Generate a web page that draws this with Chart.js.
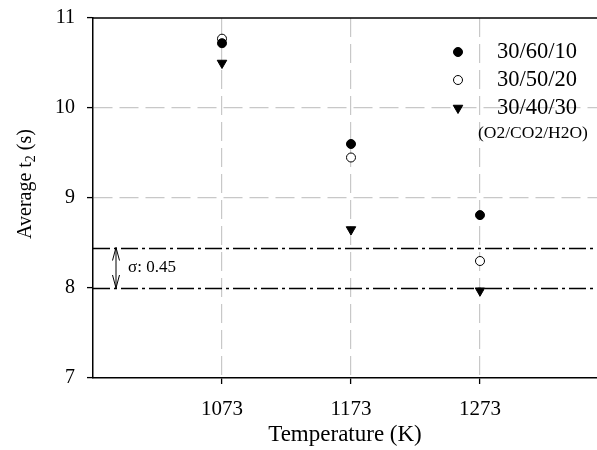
<!DOCTYPE html>
<html>
<head>
<meta charset="utf-8">
<script src="https://cdn.jsdelivr.net/npm/chart.js@4/dist/chart.umd.min.js"></script>
<style>
  html, body { margin: 0; padding: 0; background: #fff; overflow: hidden; }
  #wrap { width: 597px; height: 450px; }
  canvas { display: block; }
</style>
</head>
<body>
<div id="wrap"><canvas id="c" width="597" height="450"></canvas></div>
<script>
const temperatures = [1073, 1173, 1273];
const series6010 = [10.72, 9.60, 8.81];
const series5020 = [10.77, 9.45, 8.30];
const series4030 = [10.50, 8.65, 7.97];
const seriesLabels = ['30/60/10', '30/50/20', '30/40/30'];
const legendNote = '(O2/CO2/H2O)';
const yTickValues = [7, 8, 9, 10, 11];
const sigmaLines = [8.0, 8.45];
const sigmaLabel = 'σ: 0.45';

const FONT = '"Liberation Serif", "Times New Roman", serif';

function pts(vals) { return temperatures.map((t, i) => ({ x: t, y: vals[i] })); }

const overlay = {
  id: 'overlay',
  beforeDatasetsDraw(chart) {
    const { ctx, chartArea: a, scales: { x, y } } = chart;
    ctx.save();
    ctx.strokeStyle = '#000';
    ctx.lineWidth = 1.3;
    ctx.setLineDash([17, 4, 3, 4]);
    sigmaLines.forEach(v => {
      const py = Math.round(y.getPixelForValue(v)) + 0.5;
      ctx.beginPath(); ctx.moveTo(a.left, py); ctx.lineTo(a.right, py); ctx.stroke();
    });
    ctx.setLineDash([]);
    ctx.lineWidth = 1.5;
    ctx.beginPath(); ctx.moveTo(a.left, a.top); ctx.lineTo(a.right, a.top); ctx.stroke();
    const ax = a.left + 23;
    const y1 = y.getPixelForValue(sigmaLines[1]);
    const y0 = y.getPixelForValue(sigmaLines[0]);
    ctx.lineWidth = 1;
    ctx.beginPath();
    ctx.moveTo(ax, y1); ctx.lineTo(ax, y0);
    ctx.moveTo(ax - 3.5, y1 + 13); ctx.lineTo(ax, y1); ctx.lineTo(ax + 3.5, y1 + 13);
    ctx.moveTo(ax - 3.5, y0 - 13); ctx.lineTo(ax, y0); ctx.lineTo(ax + 3.5, y0 - 13);
    ctx.stroke();
    ctx.fillStyle = '#000';
    ctx.font = '17px ' + FONT;
    ctx.textAlign = 'left';
    ctx.textBaseline = 'middle';
    ctx.fillText(sigmaLabel, ax + 12, (y0 + y1) / 2);
    ctx.restore();
  },
  afterDraw(chart) {
    const { ctx } = chart;
    ctx.save();
    ctx.translate(26, 184);
    ctx.rotate(-Math.PI / 2);
    ctx.fillStyle = '#000';
    ctx.textBaseline = 'middle';
    const big = '20px ' + FONT, small = '14px ' + FONT;
    const parts = [['Average t', big, 0], ['2', small, 5], [' (s)', big, 0]];
    let total = 0;
    parts.forEach(p => { ctx.font = p[1]; total += ctx.measureText(p[0]).width; });
    let cx = -total / 2;
    ctx.textAlign = 'left';
    parts.forEach(p => { ctx.font = p[1]; ctx.fillText(p[0], cx, p[2]); cx += ctx.measureText(p[0]).width; });
    ctx.restore();

    ctx.save();
    const lx = 458, tx = 497, rows = [52, 80, 108];
    chart.data.datasets.forEach((ds, i) => {
      const py = rows[i];
      ctx.fillStyle = ds.pointBackgroundColor;
      ctx.strokeStyle = ds.pointBorderColor;
      ctx.lineWidth = ds.pointBorderWidth;
      Chart.helpers.drawPoint(ctx, {
        pointStyle: ds.pointStyle, rotation: ds.pointRotation || 0,
        radius: ds.pointRadius, borderWidth: ds.pointBorderWidth
      }, lx, py);
      ctx.fillStyle = '#000';
      ctx.font = '22.5px ' + FONT;
      ctx.textAlign = 'left';
      ctx.textBaseline = 'middle';
      ctx.fillText(ds.label, tx, py);
    });
    ctx.font = '17.5px ' + FONT;
    ctx.fillText(legendNote, 478, 133);
    ctx.restore();
  }
};

new Chart(document.getElementById('c'), {
  type: 'scatter',
  data: {
    datasets: [
      { label: seriesLabels[0], data: pts(series6010), pointStyle: 'circle', pointRadius: 4.5,
        pointBackgroundColor: '#000', pointBorderColor: '#000', pointBorderWidth: 1 },
      { label: seriesLabels[1], data: pts(series5020), pointStyle: 'circle', pointRadius: 4.5,
        pointBackgroundColor: '#fff', pointBorderColor: '#000', pointBorderWidth: 1 },
      { label: seriesLabels[2], data: pts(series4030), pointStyle: 'triangle', pointRotation: 180, pointRadius: 5.5,
        pointBackgroundColor: '#000', pointBorderColor: '#000', pointBorderWidth: 1 }
    ]
  },
  options: {
    responsive: false,
    animation: false,
    layout: { autoPadding: false, padding: { top: 18, right: 0, left: 0, bottom: 0 } },
    plugins: { legend: { display: false }, tooltip: { enabled: false } },
    elements: { point: { hoverRadius: 4.5 } },
    scales: {
      x: {
        type: 'linear', min: 973, max: 1363.7,
        afterBuildTicks: s => { s.ticks = temperatures.map(v => ({ value: v })); },
        afterFit: s => { s.height = 72; s.paddingLeft = 0; s.paddingRight = 0; },
        ticks: { color: '#000', font: { family: FONT, size: 21 }, padding: 13, maxRotation: 0,
                 callback: v => String(v) },
        grid: { color: '#c8c8c8', lineWidth: 1.2, tickColor: '#000', tickLength: 6, tickWidth: 1.3 },
        border: { color: '#000', width: 1.5, dash: [19, 7] },
        title: { display: true, text: 'Temperature (K)', color: '#000',
                 font: { family: FONT, size: 23 }, padding: { top: 0, bottom: 1 } }
      },
      y: {
        type: 'linear', min: 7, max: 11,
        afterBuildTicks: s => { s.ticks = yTickValues.map(v => ({ value: v })); },
        afterFit: s => { s.width = 93; s.paddingTop = 0; s.paddingBottom = 0; },
        ticks: { color: '#000', font: { family: FONT, size: 20 }, padding: 12 },
        grid: { color: c => (c.tick && (c.tick.value === 9 || c.tick.value === 10)) ? '#c8c8c8' : 'rgba(0,0,0,0)',
                lineWidth: 1.2, tickColor: '#000', tickLength: 6, tickWidth: 1.3 },
        border: { color: '#000', width: 1.5, dash: [19, 7] }
      }
    }
  },
  plugins: [overlay]
});
</script>
</body>
</html>
